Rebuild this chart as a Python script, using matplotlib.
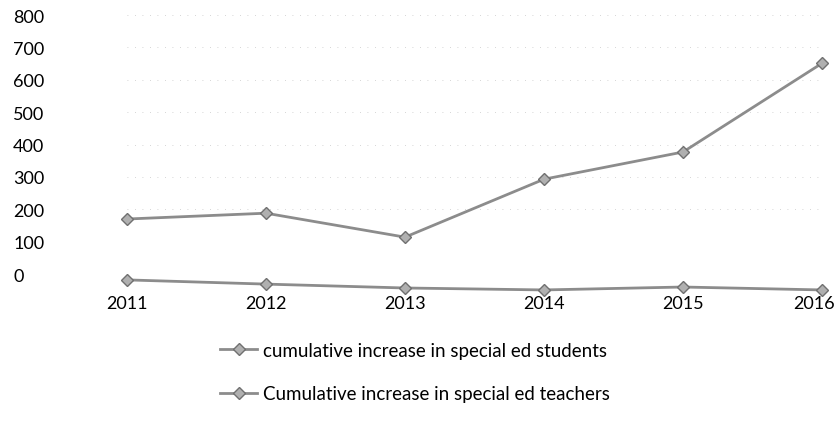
import matplotlib.pyplot as plt
import matplotlib.transforms as mtransforms
from matplotlib.lines import Line2D

plt.rcParams['font.family'] = ['Lato', 'DejaVu Sans']

# data (scan is slightly tilted, values read as drawn)
years = [2011, 2012, 2013, 2014, 2015, 2016]
students = [170, 188, 114, 293, 377, 651]
teachers = [-18, -31, -43, -49, -40, -49]
y_ticks = [0, 100, 200, 300, 400, 500, 600, 700, 800]
labels = ["cumulative increase in special ed students",
          "Cumulative increase in special ed teachers"]

line_color = '#8c8c8c'

fig = plt.figure(figsize=(8.38, 4.35), dpi=100)
ax = fig.add_axes([127 / 838, 0.323, (822 - 127) / 838, 0.655])

ax.plot(years, students, color=line_color, lw=2.0, marker='D', ms=6,
        mfc='#b0b0b0', mec='#707070', clip_on=False)
ax.plot(years, teachers, color=line_color, lw=2.0, marker='D', ms=6,
        mfc='#b0b0b0', mec='#707070', clip_on=False)

ax.set_xlim(2011, 2016)
ax.set_ylim(-60, 820)
ax.set_yticks(y_ticks)
ax.set_xticks(years)
ax.set_xticklabels([str(y) for y in years])
for s in ax.spines.values():
    s.set_visible(False)
ax.tick_params(axis='both', length=0, labelsize=13)
ax.tick_params(axis='y', pad=82)
ax.tick_params(axis='x', pad=1)
for lbl in ax.get_yticklabels():
    lbl.set_horizontalalignment('left')

# last year label sits a little left so it stays inside the figure
last = ax.get_xticklabels()[-1]
last.set_transform(last.get_transform() + mtransforms.ScaledTranslation(-8 / 100, 0, fig.dpi_scale_trans))

# faint dotted grid like the scan
for v in y_ticks[2:]:
    ax.axhline(v, color='#c8c8c8', lw=0.6, ls=(0, (1, 8)), zorder=0)

# legend under the plot
handles = [Line2D([0], [0], color=line_color, lw=2.0, marker='D', ms=6,
                  mfc='#b0b0b0', mec='#707070') for _ in labels]
fig.legend(handles, labels, loc='upper left', bbox_to_anchor=(203 / 838, 1 - 326 / 435),
           frameon=False, fontsize=13.5, handlelength=2.0, handletextpad=0.3,
           labelspacing=1.4)

fig.savefig('out.png')
